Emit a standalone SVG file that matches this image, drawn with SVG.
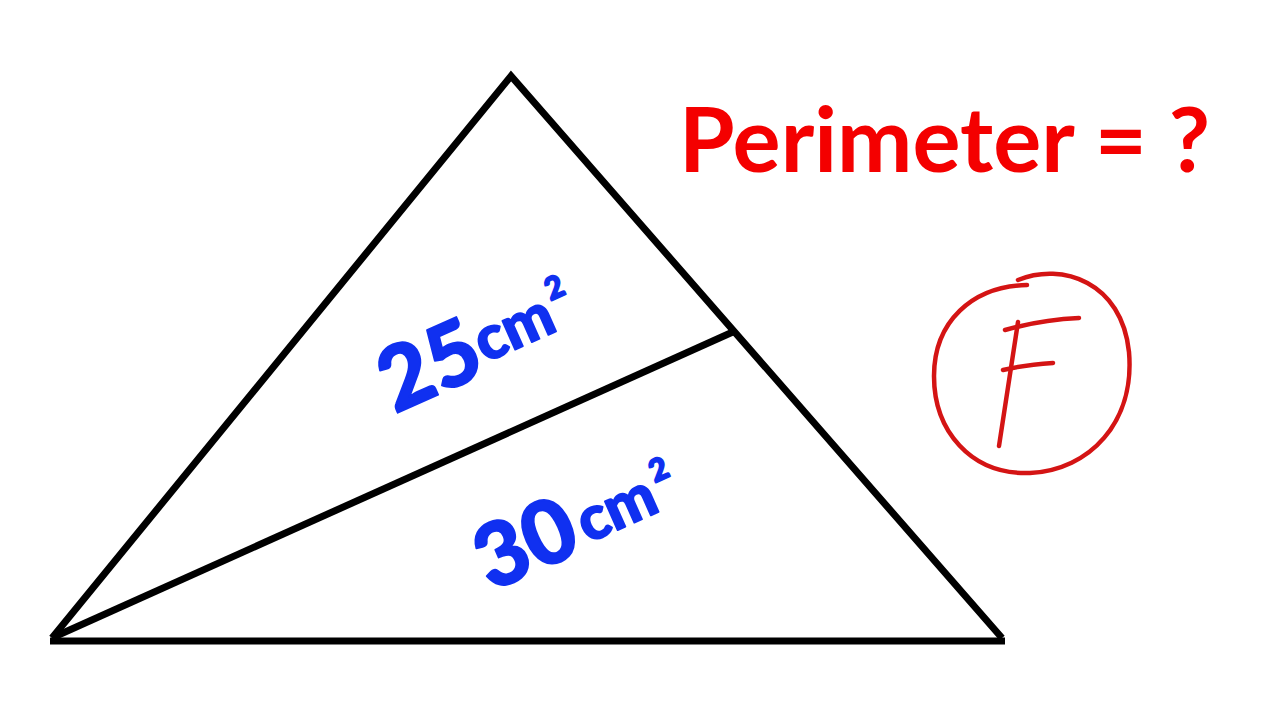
<svg xmlns="http://www.w3.org/2000/svg" width="1280" height="720" viewBox="0 0 1280 720">
<style>
.edge{fill:none;stroke:#000;stroke-width:7;stroke-linecap:butt;stroke-linejoin:miter}
.lbl{font-family:Lato,"Liberation Sans",sans-serif;font-weight:900;fill:#1030f0;stroke:#1030f0;stroke-width:1.8;stroke-linejoin:round}
.title{font-family:Lato,"Liberation Sans",sans-serif;font-weight:700;fill:#f40000}
.red{fill:none;stroke:#d41414;stroke-width:4.5;stroke-linecap:round;stroke-linejoin:round}
</style>
<rect width="1280" height="720" fill="#fff"/>
<g id="connectors">
<polyline class="edge" points="52,638 511,76 1002,638"/>
<line class="edge" x1="50" y1="641" x2="1005" y2="641"/>
<line class="edge" x1="54" y1="637" x2="735" y2="331"/>
</g>
<g id="label-25" transform="translate(395,414) rotate(-24)">
<text class="lbl" x="0" y="0" font-size="88">25</text>
<text class="lbl" x="103" y="-10" font-size="61">cm</text>
<text class="lbl" x="188" y="-40" font-size="31">2</text>
</g>
<g id="label-30" transform="translate(491,592) rotate(-24)">
<text class="lbl" x="0" y="0" font-size="88">30</text>
<text class="lbl" x="108" y="-5" font-size="61">cm</text>
<text class="lbl" x="194" y="-33" font-size="31">2</text>
</g>
<g id="title">
<text class="title" x="679" y="172" font-size="90">Perimeter = ?</text>
</g>
<g id="grade-f">
<path class="red" d="M1018,280 C1062,262 1122,282 1129,352 C1135,422 1090,470 1030,473 C970,475 934,430 934,376 C934,322 972,286 1027,285"/>
<path class="red" d="M1018,322 L999,446"/>
<path class="red" d="M1005,330 C1030,323 1055,319 1079,318"/>
<path class="red" d="M1003,370 C1020,366 1038,364 1053,363"/>
</g>
</svg>
